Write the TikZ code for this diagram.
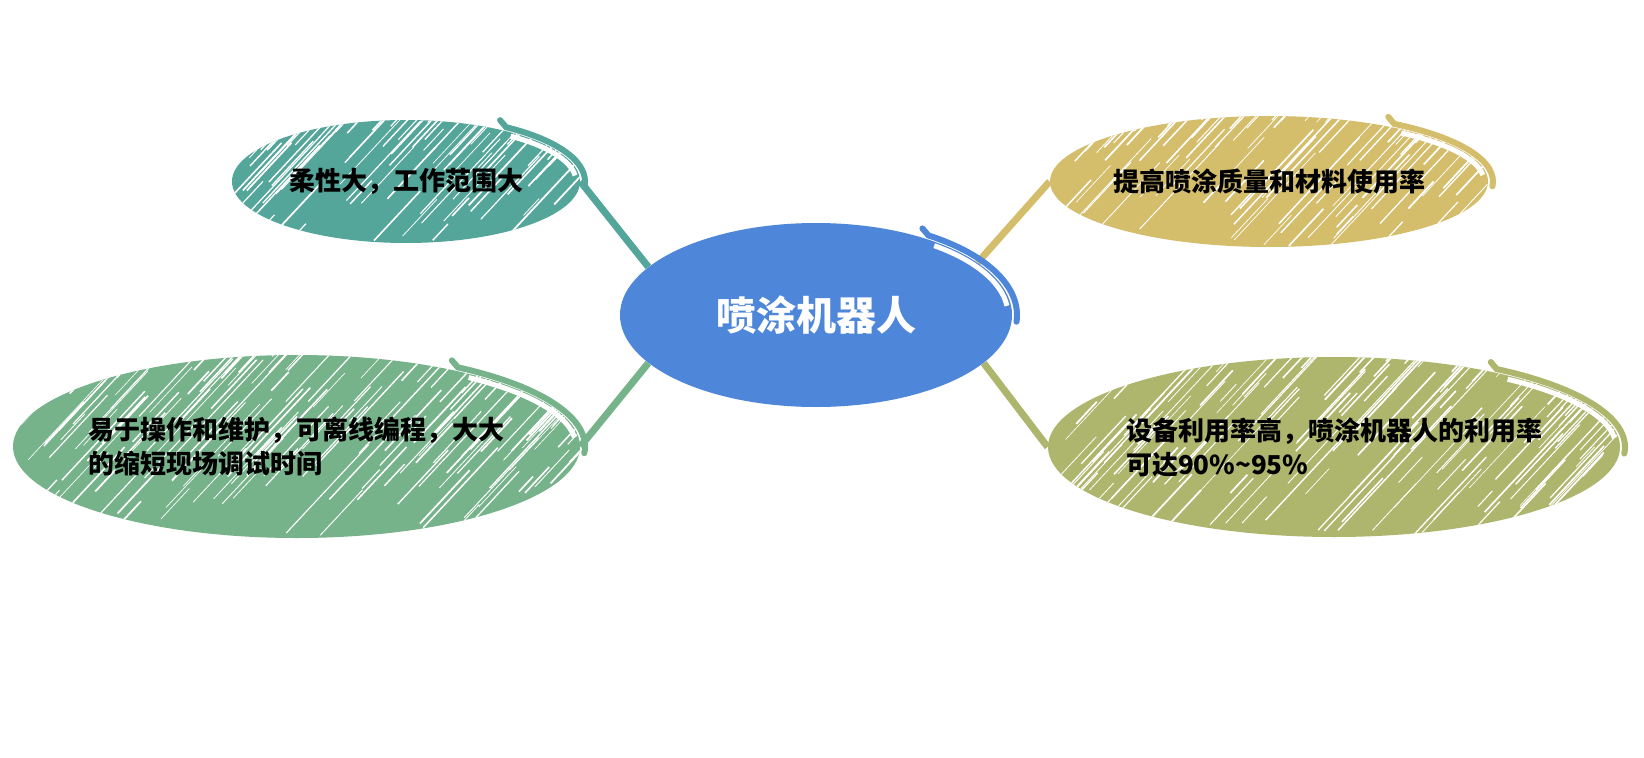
\documentclass[tikz,border=0pt]{standalone}
\usepackage{fontspec}
\setmainfont{Noto Sans CJK SC}
\usetikzlibrary{shapes.geometric,calc,backgrounds}
\definecolor{hubblue}{RGB}{78,134,218}
\definecolor{mindteal}{RGB}{84,165,154}
\definecolor{mindgreen}{RGB}{118,178,138}
\definecolor{mindgold}{RGB}{212,189,107}
\definecolor{mindolive}{RGB}{174,182,109}
% sketchy top-right stroke round a blob: node, x radius, y radius (px), colour
\def\swirl#1#2#3#4{%
  \draw[white,line width=2.5pt] ([shift={({(#2-4)*cos(52)},{(#3-4)*sin(52)})}]#1.center)
    arc[start angle=52,end angle=6,x radius={(#2-4)*0.5pt},y radius={(#3-4)*0.5pt}];
  \draw[#4,line width=3pt,line cap=round] ([shift={({(#2+5)*cos(56)-6},{(#3+4)*sin(56)+7})}]#1.center)
    -- ([shift={({(#2+5)*cos(56)},{(#3+4)*sin(56)})}]#1.center)
    arc[start angle=56,end angle=-4,x radius={(#2+5)*0.5pt},y radius={(#3+4)*0.5pt}];}
\tikzset{
  blob/.style={ellipse,draw=none,inner xsep=-10pt,inner ysep=0pt,
    font=\fontsize{13}{17}\selectfont\bfseries,align=left},
  hatch/.style n args={4}{path picture={
    \pgfmathsetseed{#4}
    \foreach \k in {1,...,#3}{
      \pgfmathsetmacro\hx{(2*rnd-1)*#1}
      \pgfmathsetmacro\hy{(2*rnd-1)*#2}
      \pgfmathsetmacro\hl{20+110*rnd}
      \pgfmathsetmacro\hw{0.3+0.6*rnd}
      \draw[white,line width=\hw pt] ($(path picture bounding box.center)+(\hx,\hy)$) -- ++(47:\hl);
    }}},
  link/.style={line width=3.5pt}
}
\begin{document}
\begin{tikzpicture}[x=0.5pt,y=0.5pt]
  \begin{scope}[on background layer]
    \fill[white] (0,0) rectangle (1644,757);
  \end{scope}
  \useasboundingbox (0,0) rectangle (1644,757);

  % centre
  \node[blob,fill=hubblue,minimum width=196pt,minimum height=92pt,
    font=\fontsize{20}{24}\selectfont\bfseries,text=white] (hub) at (816,442) {喷涂机器人};

  % branches
  \node[blob,fill=mindteal,minimum width=174pt,minimum height=61.5pt,
    hatch={174}{61.5}{85}{3}] (flex) at (406,575.5) {柔性大，工作范围大};
  \node[blob,fill=mindgreen,minimum width=283.5pt,minimum height=91.5pt,
    hatch={283.5}{91.5}{170}{5}] (ease) at (296.5,310.5)
    {易于操作和维护，可离线编程，大大\\的缩短现场调试时间};
  \node[blob,fill=mindgold,minimum width=219pt,minimum height=65.5pt,
    hatch={219}{65.5}{100}{7}] (quality) at (1269,575.5) {提高喷涂质量和材料使用率};
  \node[blob,fill=mindolive,minimum width=286pt,minimum height=90pt,
    hatch={286}{90}{170}{9}] (usage) at (1334,310)
    {设备利用率高，喷涂机器人的利用率\\可达90\%\textasciitilde 95\%};

  \swirl{hub}{196}{92}{hubblue}
  \swirl{flex}{174}{61.5}{mindteal}
  \swirl{ease}{283.5}{91.5}{mindgreen}
  \swirl{quality}{219}{65.5}{mindgold}
  \swirl{usage}{286}{90}{mindolive}

  \begin{scope}[on background layer]
    \draw[link,mindteal] (flex.east) -- (hub.164);
    \draw[link,mindgreen] (ease.east) -- (hub.196);
    \draw[link,mindgold] (quality.west) -- (hub.18);
    \draw[link,mindolive] (usage.west) -- (hub.344);
  \end{scope}
\end{tikzpicture}
\end{document}
